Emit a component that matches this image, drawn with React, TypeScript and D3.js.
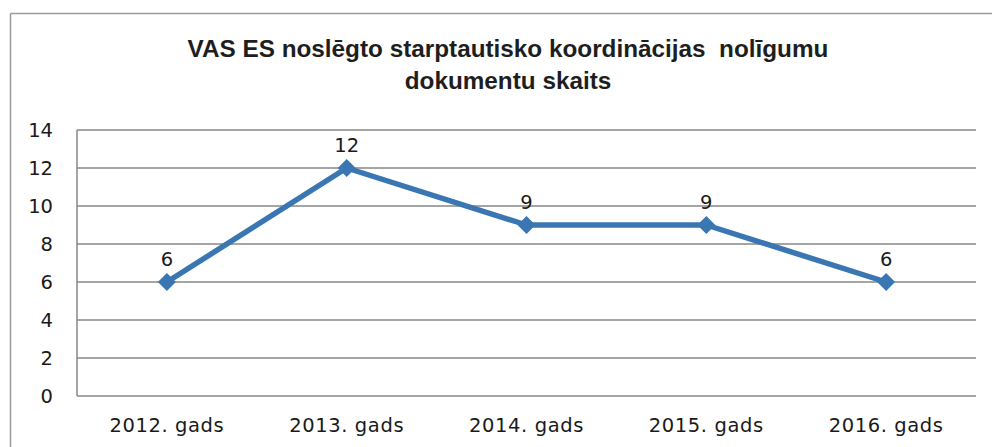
import React from "react";
import * as d3 from "d3";

const titleLines = ["VAS ES noslēgto starptautisko koordinācijas  nolīgumu", "dokumentu skaits"];
const categories = ["2012. gads", "2013. gads", "2014. gads", "2015. gads", "2016. gads"];
const values = [6, 12, 9, 9, 6];
const yTicks = [0, 2, 4, 6, 8, 10, 12, 14];

const W = 992;
const H = 447;
const plot = { left: 77, right: 976, top: 130, bottom: 396 };
const lineColor = "#3a77b2";
const gridColor = "#878787";
const labelFont = "'DejaVu Sans', sans-serif";

export default function App() {
  const x = d3.scaleBand<string>().domain(categories).range([plot.left, plot.right]);
  const y = d3.scaleLinear().domain([0, 14]).range([plot.bottom, plot.top]);
  const cx = (c: string) => (x(c) as number) + x.bandwidth() / 2;
  const line = d3
    .line<number>()
    .x((_, i) => cx(categories[i]))
    .y((d) => y(d));
  const diamond = (px: number, py: number, r: number) =>
    `M${px},${py - r}L${px + r},${py}L${px},${py + r}L${px - r},${py}Z`;

  return (
    <svg
      width={W}
      height={H}
      style={{ position: "absolute", left: 0, top: 0, background: "#fff" }}
    >
      <rect x={0} y={0} width={W} height={H} fill="#fff" />
      {/* outer chart border */}
      <line x1={10.5} y1={13.5} x2={W} y2={13.5} stroke="#9a9a9a" strokeWidth={1.5} />
      <line x1={10.5} y1={13.5} x2={10.5} y2={H} stroke="#9a9a9a" strokeWidth={1.5} />

      {/* title */}
      <text
        textAnchor="middle"
        fontFamily="'Liberation Sans', Arial, sans-serif"
        fontWeight={700}
        fontSize={24.3}
        fill="#1e1e1e"
      >
        {titleLines.map((t, i) => (
          <tspan key={i} x={508} y={57 + i * 32} style={{ whiteSpace: "pre" }}>
            {t}
          </tspan>
        ))}
      </text>

      {/* gridlines */}
      {yTicks.map((t) => (
        <line
          key={t}
          x1={plot.left}
          x2={plot.right}
          y1={y(t)}
          y2={y(t)}
          stroke={gridColor}
          strokeWidth={1.5}
        />
      ))}
      {/* y axis line */}
      <line x1={plot.left} x2={plot.left} y1={plot.top} y2={plot.bottom} stroke={gridColor} strokeWidth={1.5} />

      {/* y tick labels */}
      {yTicks.map((t) => (
        <text
          key={t}
          x={53}
          y={y(t)}
          dy="0.36em"
          textAnchor="end"
          fontFamily={labelFont}
          fontSize={19.5}
          fill="#1a1a1a"
        >
          {t}
        </text>
      ))}

      {/* x labels */}
      {categories.map((c) => (
        <text
          key={c}
          x={cx(c)}
          y={432}
          textAnchor="middle"
          fontFamily={labelFont}
          fontSize={19.5}
          letterSpacing={0.6}
          fill="#1a1a1a"
        >
          {c}
        </text>
      ))}

      {/* series line */}
      <path d={line(values) as string} fill="none" stroke={lineColor} strokeWidth={5.5} strokeLinejoin="round" />
      {values.map((v, i) => (
        <path key={i} d={diamond(cx(categories[i]), y(v), 9)} fill={lineColor} />
      ))}

      {/* data labels */}
      {values.map((v, i) => (
        <text
          key={i}
          x={cx(categories[i])}
          y={y(v) - 16}
          textAnchor="middle"
          fontFamily={labelFont}
          fontSize={19.5}
          fill="#1a1a1a"
        >
          {v}
        </text>
      ))}
    </svg>
  );
}
